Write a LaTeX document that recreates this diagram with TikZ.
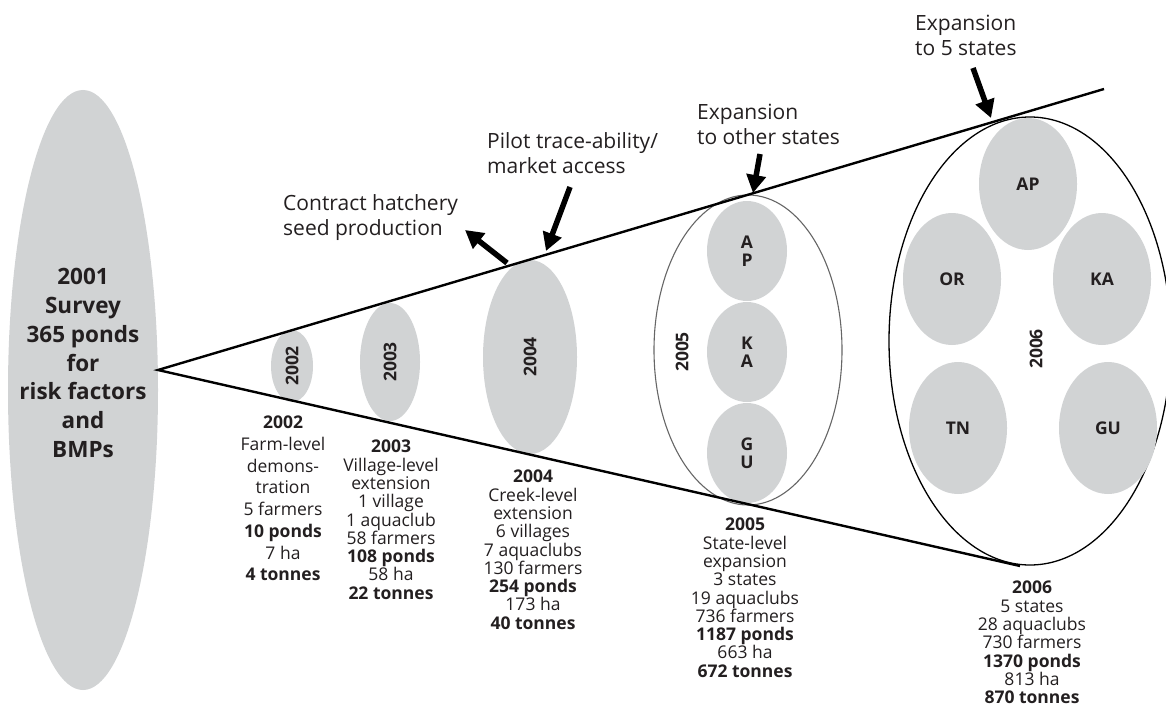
\documentclass[tikz,border=0pt]{standalone}
\usepackage{fontspec}
\setmainfont{Open Sans}
\usetikzlibrary{shapes.geometric,arrows.meta}
\definecolor{pondgray}{HTML}{D1D3D4}
\definecolor{ink}{HTML}{231F20}
\begin{document}
\begin{tikzpicture}[x=1pt,y=-1pt,
  pond/.style={ellipse,fill=pondgray,inner sep=0pt,text=ink,
    font=\fontsize{17.5}{18}\selectfont\bfseries},
  datalabel/.style={align=center,anchor=north,inner sep=0pt,text=ink,
    font=\fontsize{17.5}{18.3}\selectfont},
  headlabel/.style={align=left,anchor=north west,inner sep=0pt,text=ink,
    font=\fontsize{21}{25}\selectfont},
  yearmark/.style={inner sep=0pt,text=ink,font=\fontsize{17.5}{18}\selectfont\bfseries},
  cone/.style={line width=2.4pt,black,line join=miter},
  callout/.style={line width=5.5pt,black,-{Triangle[length=18pt,width=19pt]}},
]
\useasboundingbox (0,0) rectangle (1166,706);

% starting survey
\node[ellipse,fill=pondgray,minimum width=150pt,minimum height=600pt,inner sep=0pt] (survey) at (83,390) {};
\node[align=center,inner sep=0pt,text=ink,font=\fontsize{22.5}{28.8}\selectfont\bfseries] (surveytext) at (83,363)
  {2001\\Survey\\365 ponds\\for\\risk factors\\and\\BMPs};

% yearly ponds
\node[pond,minimum width=42pt,minimum height=72pt] (p2002) at (292,366) {\rotatebox{90}{2002}};
\node[pond,minimum width=60pt,minimum height=118pt] (p2003) at (390,362) {\rotatebox{90}{2003}};
\node[pond,minimum width=94pt,minimum height=194pt] (p2004) at (530,357) {\rotatebox{90}{2004}};

% 2005: three states
\node[ellipse,draw=black!60,line width=1.1pt,minimum width=188pt,minimum height=310pt,inner sep=0pt] (g2005) at (748,350) {};
\node[pond,minimum width=80pt,minimum height=100pt,align=center] (s5ap) at (747,251) {A\\P};
\node[pond,minimum width=80pt,minimum height=100pt,align=center] (s5ka) at (747,352) {K\\A};
\node[pond,minimum width=80pt,minimum height=100pt,align=center] (s5gu) at (747,453) {G\\U};
\node[yearmark] (y2005) at (682,352) {\rotatebox{90}{2005}};

% 2006: five states
\node[ellipse,draw=black,line width=1.3pt,minimum width=282pt,minimum height=448pt,inner sep=0pt] (g2006) at (1030,341) {};
\node[pond,minimum width=98pt,minimum height=132pt] (s6ap) at (1028,184) {AP};
\node[pond,minimum width=98pt,minimum height=132pt] (s6or) at (952,279) {OR};
\node[pond,minimum width=98pt,minimum height=132pt] (s6ka) at (1102,279) {KA};
\node[pond,minimum width=98pt,minimum height=132pt] (s6tn) at (958,428) {TN};
\node[pond,minimum width=98pt,minimum height=132pt] (s6gu) at (1108,428) {GU};
\node[yearmark] (y2006) at (1036,349) {\rotatebox{90}{2006}};

% widening cone
\coordinate (apex) at (158,370);
\coordinate (upperend) at (1104,89);
\coordinate (lowerend) at (1020,566);
\draw[cone] (upperend) -- (apex) -- (lowerend);

% milestones with arrows
\node[headlabel] (hatch) at (283,194) {Contract hatchery\\seed production};
\node[headlabel] (pilot) at (487,132) {Pilot trace-ability/\\market access};
\node[headlabel] (other) at (697,104) {Expansion\\to other states};
\node[headlabel] (five) at (915,15) {Expansion\\to 5 states};

\coordinate (hatchfrom) at (507,263);
\coordinate (hatchto) at (465,230);
\coordinate (pilotfrom) at (570,187);
\coordinate (pilotto) at (546,251);
\coordinate (otherfrom) at (760,154);
\coordinate (otherto) at (753,193);
\coordinate (fivefrom) at (973,68);
\coordinate (fiveto) at (991,118);
\draw[callout] (hatchfrom) -- (hatchto);
\draw[callout] (pilotfrom) -- (pilotto);
\draw[callout] (otherfrom) -- (otherto);
\draw[callout] (fivefrom) -- (fiveto);

% yearly figures
\node[datalabel,font=\fontsize{17.5}{21.7}\selectfont] (d2002) at (283,416)
  {\textbf{2002}\\Farm-level\\demons-\\tration\\5 farmers\\\textbf{10 ponds}\\7 ha\\\textbf{4 tonnes}};
\node[datalabel] (d2003) at (391,440)
  {\textbf{2003}\\Village-level\\extension\\1 village\\1 aquaclub\\58 farmers\\\textbf{108 ponds}\\58 ha\\\textbf{22 tonnes}};
\node[datalabel] (d2004) at (533,470)
  {\textbf{2004}\\Creek-level\\extension\\6 villages\\7 aquaclubs\\130 farmers\\\textbf{254 ponds}\\173 ha\\\textbf{40 tonnes}};
\node[datalabel] (d2005) at (745,518)
  {\textbf{2005}\\State-level\\expansion\\3 states\\19 aquaclubs\\736 farmers\\\textbf{1187 ponds}\\663 ha\\\textbf{672 tonnes}};
\node[datalabel] (d2006) at (1032,581)
  {\textbf{2006}\\5 states\\28 aquaclubs\\730 farmers\\\textbf{1370 ponds}\\813 ha\\\textbf{870 tonnes}};
\end{tikzpicture}
\end{document}
